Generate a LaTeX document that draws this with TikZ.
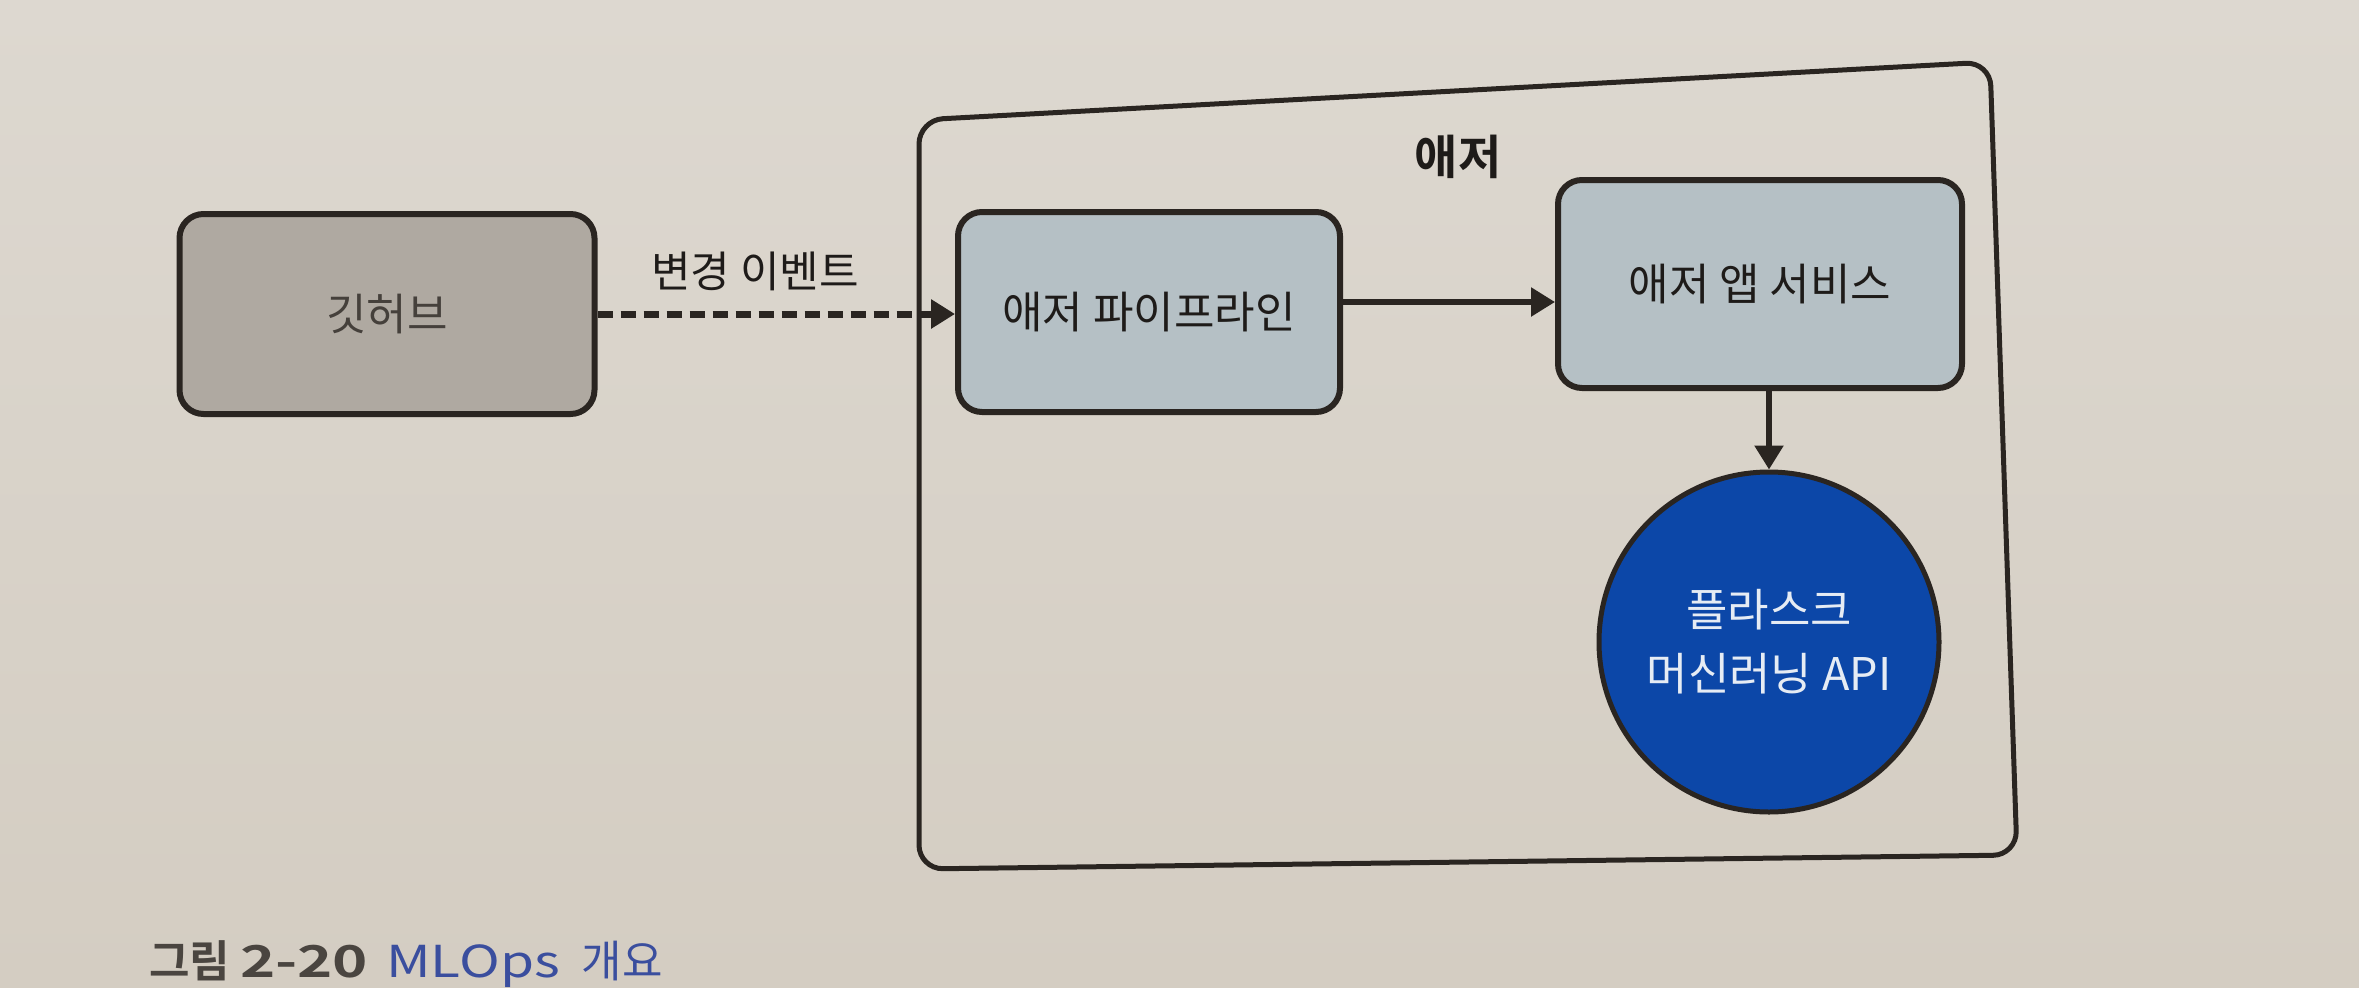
\documentclass[tikz,border=0pt]{standalone}
\usepackage{fontspec}
\setmainfont{Noto Sans CJK KR}[BoldFont={Noto Sans CJK KR Bold}]
\usetikzlibrary{arrows.meta,calc}
\definecolor{bgtop}{HTML}{DDD8D0}
\definecolor{bgbot}{HTML}{D4CDC2}
\definecolor{edgecol}{HTML}{2A2521}
\definecolor{gitfill}{HTML}{AFA9A1}
\definecolor{azfill}{HTML}{B5C0C5}
\definecolor{apifill}{HTML}{0C47A8}
\definecolor{apitext}{HTML}{E6ECF4}
\definecolor{gittext}{HTML}{45403B}
\definecolor{darktext}{HTML}{1E1B19}
\definecolor{capgray}{HTML}{4A4540}
\definecolor{capblue}{HTML}{3A4E9E}
\tikzset{
  boxstyle/.style={draw=edgecol, line width=6pt, rounded corners=24pt, align=center,
    font=\fontsize{44}{52}\selectfont, inner sep=0pt},
  gitbox/.style={boxstyle, fill=gitfill, text=gittext},
  azbox/.style={boxstyle, fill=azfill, text=darktext},
  apicircle/.style={circle, draw=edgecol, line width=5pt, fill=apifill, text=apitext,
    align=center, font=\fontsize{45}{64}\selectfont, inner sep=0pt},
  flowarrow/.style={draw=edgecol, line width=5.5pt, -{Triangle[length=24pt,width=28pt]}},
  dasharrow/.style={draw=edgecol, line width=7pt, dash pattern=on 15pt off 8pt,
    -{Triangle[length=24pt,width=28pt]}},
  frame/.style={draw=edgecol, line width=5pt, rounded corners=24pt},
  plainlabel/.style={text=darktext, font=\fontsize{43}{50}\selectfont, inner sep=0pt}
}
\begin{document}
\begin{tikzpicture}[x=1pt,y=-1pt]
\useasboundingbox (0,0) rectangle (2359,988);
\shade[top color=bgtop, bottom color=bgbot] (0,0) rectangle (2359,988);

% Azure frame
\draw[frame] (919,120) -- (1990,62) -- (2017,855) -- (919,869) -- cycle;
\node[plainlabel, font=\fontsize{47}{54}\selectfont\bfseries] (aztitle) at (1458,157) {애저};

% nodes
\node[gitbox, minimum width=415pt, minimum height=200pt] (git) at (387,314) {깃허브};
\node[azbox, minimum width=382pt, minimum height=200pt] (pipe) at (1149,312) {애저 파이프라인};
\node[azbox, minimum width=404pt, minimum height=208pt] (app) at (1760,284) {애저 앱 서비스};
\node[apicircle, minimum size=340pt] (api) at (1769,642) {플라스크\\머신러닝 API};

% connectors
\draw[dasharrow] (git.east) -- (git.east -| pipe.west);
\node[plainlabel] (evlabel) at (755,271) {변경 이벤트};
\coordinate (pa) at ([yshift=10pt]pipe.east);
\draw[flowarrow] (pa) -- (app.west |- pa);
\draw[flowarrow] (app.south -| api.north) -- (api.north);

% caption
\node[anchor=west, inner sep=0pt, font=\fontsize{44}{50}\selectfont] (caption) at (149,964)
  {{\bfseries\color{capgray}그림\hspace{10pt}\scalebox{1.36}[1]{2-20}}\hspace{18pt}{\color{capblue}\scalebox{1.25}[1]{MLOps}\hspace{22pt}개요}};
\end{tikzpicture}
\end{document}
